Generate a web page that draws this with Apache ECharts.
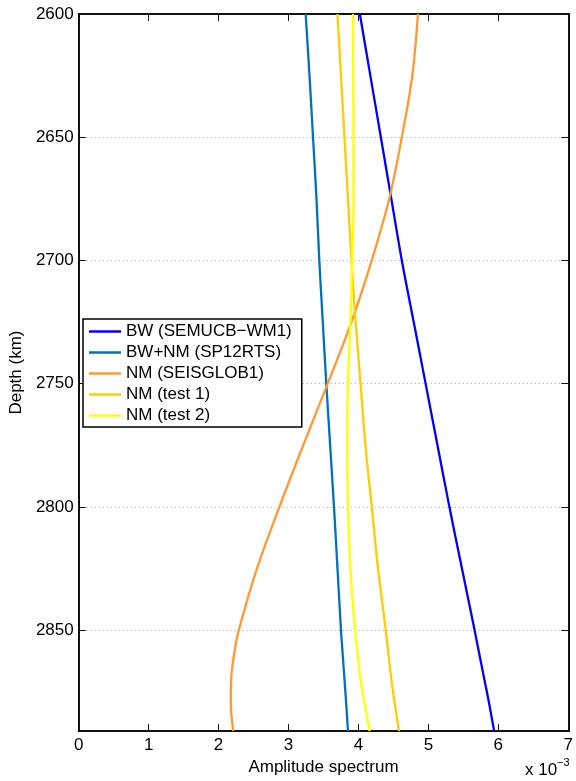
<!DOCTYPE html>
<html>
<head>
<meta charset="utf-8">
<script src="https://cdn.jsdelivr.net/npm/echarts@6/dist/echarts.min.js"></script>
<style>html,body{margin:0;padding:0;background:#fff}#c{width:576px;height:781px}</style>
</head>
<body>
<div id="c"></div>
<script>
// Depth (km) sample points
const depth = [2600, 2625, 2650, 2675, 2700, 2725, 2750, 2775, 2800, 2825, 2850, 2860, 2870, 2880, 2891];
// Amplitude spectrum values (x 10^-3)
const bwSemucb = [4.02, 4.17, 4.32, 4.47, 4.62, 4.79, 4.96, 5.13, 5.30, 5.48, 5.66, 5.73, 5.80, 5.87, 5.94];
const bwnmSp12 = [3.245, 3.30, 3.35, 3.40, 3.44, 3.49, 3.54, 3.595, 3.65, 3.70, 3.75, 3.775, 3.80, 3.825, 3.85];
const nmSeisglob = [4.85, 4.77, 4.62, 4.44, 4.19, 3.90, 3.56, 3.21, 2.87, 2.55, 2.29, 2.22, 2.18, 2.175, 2.21];
const nmTest1 = [3.70, 3.75, 3.80, 3.85, 3.90, 3.96, 4.03, 4.10, 4.19, 4.28, 4.39, 4.43, 4.47, 4.52, 4.58];
const nmTest2 = [3.92, 3.925, 3.93, 3.93, 3.91, 3.885, 3.85, 3.84, 3.85, 3.885, 3.95, 3.99, 4.03, 4.09, 4.16];
const seriesNames = ['BW (SEMUCB\u2212WM1)', 'BW+NM (SP12RTS)', 'NM (SEISGLOB1)', 'NM (test 1)', 'NM (test 2)'];
const seriesColors = ['#0000ff', '#0072bd', '#ff9933', '#ffcc00', '#ffff00'];
const xTicks = [0, 1, 2, 3, 4, 5, 6, 7];
const yTicks = [2600, 2650, 2700, 2750, 2800, 2850];

const FONT = 'Liberation Sans, Arial, Helvetica, sans-serif';
const axisColor = '#111';
const allValues = [bwSemucb, bwnmSp12, nmSeisglob, nmTest1, nmTest2];

const chart = echarts.init(document.getElementById('c'), null, {renderer: 'canvas'});
const series = allValues.map((vals, i) => ({
  name: seriesNames[i],
  type: 'line',
  xAxisIndex: 0,
  yAxisIndex: 0,
  data: vals.map((v, k) => [v, depth[k]]),
  symbol: 'none',
  smooth: 0.35,
  lineStyle: {color: seriesColors[i], width: 2.3},
  itemStyle: {color: seriesColors[i]},
  z: 3
}));

const commonAxisLine = {show: true, onZero: false, lineStyle: {color: axisColor, width: 2}};
const commonTick = {show: true, inside: true, length: 7, lineStyle: {color: axisColor, width: 1}};

chart.setOption({
  animation: false,
  grid: {left: 77, right: 5, top: 14, bottom: 49, containLabel: false},
  legend: {
    orient: 'vertical',
    left: 83,
    top: 319,
    data: seriesNames.map(n => ({name: n, icon: 'rect'})),
    itemWidth: 32,
    itemHeight: 2.5,
    itemGap: 4,
    padding: [4, 10, 3, 6],
    backgroundColor: '#fff',
    borderColor: '#000',
    borderWidth: 1.5,
    textStyle: {fontFamily: FONT, fontSize: 17, color: '#000', lineHeight: 17},
    selectedMode: false
  },
  xAxis: [{
    type: 'value', min: xTicks[0], max: xTicks[xTicks.length - 1], interval: 1,
    position: 'bottom',
    name: 'Amplitude spectrum', nameLocation: 'middle', nameGap: 23,
    nameTextStyle: {fontFamily: FONT, fontSize: 17, color: '#000'},
    axisLine: commonAxisLine, axisTick: commonTick,
    axisLabel: {fontFamily: FONT, fontSize: 17, color: '#000', margin: 6},
    splitLine: {show: false}
  }, {
    type: 'value', min: xTicks[0], max: xTicks[xTicks.length - 1], interval: 1,
    position: 'top',
    axisLine: commonAxisLine, axisTick: commonTick,
    axisLabel: {show: false}, splitLine: {show: false}
  }],
  yAxis: [{
    type: 'value', inverse: true, min: yTicks[0], max: 2891, interval: 50,
    position: 'left',
    name: 'Depth (km)', nameLocation: 'middle', nameGap: 41,
    nameTextStyle: {fontFamily: FONT, fontSize: 17, color: '#000'},
    axisLine: commonAxisLine, axisTick: commonTick,
    axisLabel: {fontFamily: FONT, fontSize: 17, color: '#000', margin: 5, showMaxLabel: false,
      formatter: v => (yTicks.indexOf(v) >= 0 ? String(v) : '')},
    splitLine: {show: true, lineStyle: {color: '#a0a0a0', width: 1, type: [1, 3]}}
  }, {
    type: 'value', inverse: true, min: yTicks[0], max: 2891, interval: 50,
    position: 'right',
    axisLine: commonAxisLine, axisTick: commonTick,
    axisLabel: {show: false}, splitLine: {show: false}
  }],
  graphic: [{
    type: 'text', left: 525, top: 762,
    style: {text: 'x 10', font: '17px ' + FONT, fill: '#000'}
  }, {
    type: 'text', left: 557, top: 757,
    style: {text: '\u22123', font: '11px ' + FONT, fill: '#000'}
  }],
  series: series
});
</script>
</body>
</html>
